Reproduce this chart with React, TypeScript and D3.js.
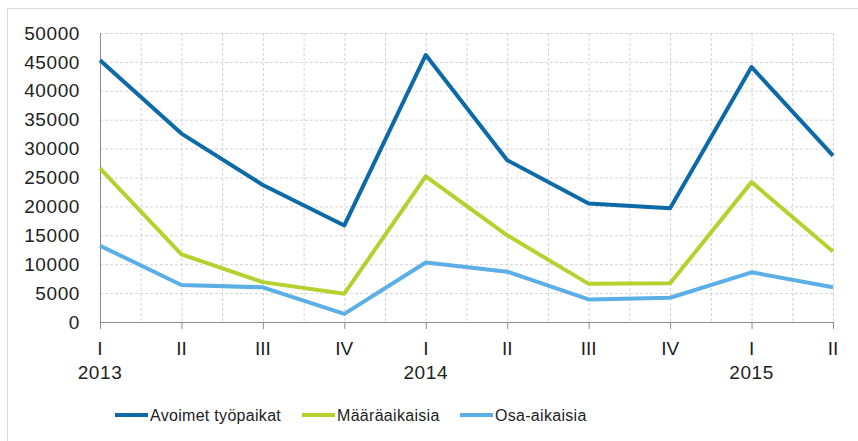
import React from 'react';
import * as d3 from 'd3';

const quarters = ['I', 'II', 'III', 'IV', 'I', 'II', 'III', 'IV', 'I', 'II'];
const years = [{ label: '2013', idx: 0 }, { label: '2014', idx: 4 }, { label: '2015', idx: 8 }];
const avoimet = [45300, 32600, 23700, 16700, 46200, 28000, 20500, 19700, 44100, 28800];
const maaraaikaisia = [26600, 11700, 6900, 4900, 25200, 15000, 6600, 6700, 24200, 12200];
const osaaikaisia = [13200, 6400, 6000, 1400, 10300, 8700, 3900, 4200, 8600, 6000];
const yTicks = [0, 5000, 10000, 15000, 20000, 25000, 30000, 35000, 40000, 45000, 50000];

const series = [
  { name: 'Avoimet työpaikat', values: avoimet, color: '#0b6aa7' },
  { name: 'Määräaikaisia', values: maaraaikaisia, color: '#b4d22d' },
  { name: 'Osa-aikaisia', values: osaaikaisia, color: '#5bafe6' },
];

const W = 858;
const H = 441;
// plot area
const X0 = 100, X1 = 833, Y0 = 322, Y1 = 33;

const App: React.FC = () => {
  const x = d3.scaleLinear().domain([0, quarters.length - 1]).range([X0, X1]);
  const y = d3.scaleLinear().domain([0, 50000]).range([Y0, Y1]);

  const line = d3.line<number>()
    .x((_, i) => x(i))
    .y(d => y(d));

  // vertical grid every half category
  const halfSteps = d3.range(1, (quarters.length - 1) * 2 + 1).map(k => k / 2);

  const font = '"Liberation Sans", Arial, sans-serif';
  const legendX = [115, 302, 460];

  return (
    <svg width={W} height={H} style={{ position: 'absolute', left: 0, top: 0, background: '#fff' }}>
      {/* frame */}
      <line x1={7.5} x2={W} y1={8.5} y2={8.5} stroke="#d9d9d9" />
      <line x1={7.5} x2={7.5} y1={8.5} y2={H} stroke="#d9d9d9" />

      {/* grid */}
      {yTicks.filter(t => t > 0).map(t => (
        <line key={'h' + t} x1={X0} x2={X1} y1={y(t) + 0.5} y2={y(t) + 0.5}
          stroke="#d4d4d4" strokeDasharray="3 2" />
      ))}
      {halfSteps.map(k => (
        <line key={'v' + k} x1={x(k) + 0.5} x2={x(k) + 0.5} y1={Y1} y2={Y0}
          stroke="#d4d4d4" strokeDasharray="3 2" />
      ))}

      {/* axes */}
      <line x1={X0 + 0.5} x2={X0 + 0.5} y1={Y1} y2={Y0} stroke="#8c8c8c" />
      <line x1={X0} x2={X1} y1={Y0 + 0.5} y2={Y0 + 0.5} stroke="#8c8c8c" />
      {quarters.map((_, i) => (
        <line key={'t' + i} x1={x(i) + 0.5} x2={x(i) + 0.5} y1={Y0} y2={Y0 + 7} stroke="#8c8c8c" />
      ))}

      {/* y labels */}
      {yTicks.map(t => (
        <text key={'yl' + t} x={80} y={y(t)} dy="0.35em" textAnchor="end"
          fontFamily={font} fontSize={19} letterSpacing={0.6} fill="#222">{t}</text>
      ))}

      {/* x labels */}
      {quarters.map((q, i) => (
        <text key={'xl' + i} x={x(i)} y={355} textAnchor="middle"
          fontFamily={font} fontSize={19} fill="#222">{q}</text>
      ))}
      {years.map(yr => (
        <text key={yr.label} x={x(yr.idx)} y={379} textAnchor="middle"
          fontFamily={font} fontSize={19} letterSpacing={0.6} fill="#222">{yr.label}</text>
      ))}

      {/* series */}
      {series.map(s => (
        <path key={s.name} d={line(s.values) || ''} fill="none" stroke={s.color}
          strokeWidth={4} strokeLinejoin="round" />
      ))}

      {/* legend */}
      {series.map((s, i) => (
        <g key={'lg' + i} transform={`translate(${legendX[i]},415)`}>
          <line x1={0} x2={33} y1={0} y2={0} stroke={s.color} strokeWidth={4} />
          <text x={35} y={0} dy="0.35em" fontFamily={font} fontSize={16} letterSpacing={0.3} fill="#222">{s.name}</text>
        </g>
      ))}
    </svg>
  );
};

export default App;
